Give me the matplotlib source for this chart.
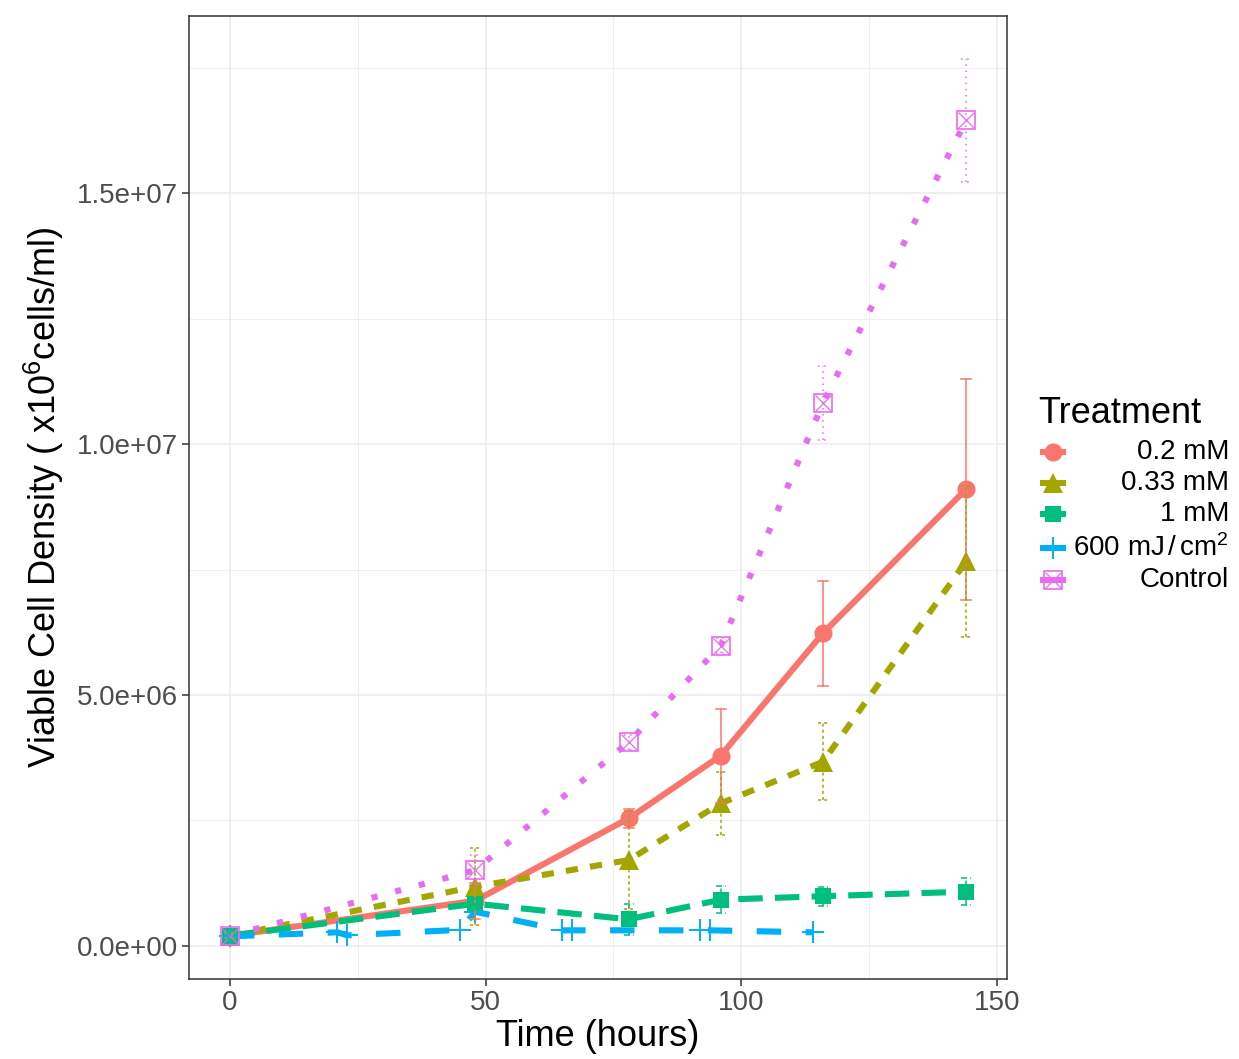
import matplotlib
matplotlib.use('Agg')
import matplotlib.pyplot as plt
from matplotlib.ticker import FixedLocator

plt.rcParams['font.family'] = ['Liberation Sans', 'DejaVu Sans']
plt.rcParams['mathtext.fontset'] = 'custom'
plt.rcParams['mathtext.rm'] = 'Liberation Sans'
plt.rcParams['mathtext.it'] = 'Liberation Sans:italic'

# dados (valores em 1e6 celulas/ml)
tempos = [0, 48, 78, 96, 116, 144]
d_02 = [0.2, 0.9, 2.54, 3.79, 6.23, 9.10]
e_02 = [0.05, 0.36, 0.19, 0.94, 1.05, 2.2]
d_033 = [0.2, 1.18, 1.71, 2.84, 3.67, 7.66]
e_033 = [0.05, 0.77, 0.97, 0.63, 0.77, 1.5]
d_1 = [0.2, 0.84, 0.53, 0.92, 0.99, 1.08]
e_1 = [0.05, 0.1, 0.31, 0.27, 0.19, 0.27]
d_ctl = [0.2, 1.51, 4.06, 5.98, 10.82, 16.45]
e_ctl = [0.05, 0.3, 0.15, 0.15, 0.73, 1.22]

tempos_uv = [0, 21, 23, 45, 48, 65, 67, 92, 94, 114]
d_uv = [0.19, 0.27, 0.21, 0.32, 0.68, 0.31, 0.31, 0.31, 0.31, 0.27]

nomes = ['0.2 mM', '0.33 mM', '1 mM', r'600 mJ$\,/\,$cm$^2$', 'Control']
cores = ['#F8766D', '#A3A500', '#00BF7D', '#00B0F6', '#E76BF3']
tracos = ['-', (0, (2, 2)), (0, (4, 2)), (0, (4, 4)), (0, (1, 3))]

fig = plt.figure(figsize=(12.39, 10.59), dpi=100)
ax = fig.add_axes([189 / 1239, 80 / 1059, 818 / 1239, 963 / 1059])

lw = 4.4
lw_err = 1.1


def marcador(a, x, y, i, z=3):
    c = cores[i]
    if i == 0:
        a.plot(x, y, 'o', ms=13, color=c, mew=0, zorder=z)
    elif i == 1:
        a.plot(x, y, '^', ms=15, color=c, mew=0, zorder=z)
    elif i == 2:
        a.plot(x, y, 's', ms=12, color=c, mew=0, zorder=z)
    elif i == 3:
        a.plot(x, y, '+', ms=16, color=c, mew=1.4, zorder=z)
    else:
        a.plot(x, y, 's', ms=12.5, mfc='none', mec=c, mew=1.2, zorder=z)
        a.plot(x, y, 'x', ms=11.5, color=c, mew=0.9, zorder=z)


def barras(a, x, y, e, i):
    for xi, yi, ei in zip(x, y, e):
        lo, hi = (yi - ei) * 1e6, (yi + ei) * 1e6
        a.plot([xi, xi], [lo, hi], color=cores[i], lw=lw_err, ls=tracos[i], zorder=4)
        a.plot([xi - 1, xi + 1], [lo, lo], color=cores[i], lw=lw_err, ls=tracos[i], zorder=4)
        a.plot([xi - 1, xi + 1], [hi, hi], color=cores[i], lw=lw_err, ls=tracos[i], zorder=4)


series = [(tempos, d_02, e_02), (tempos, d_033, e_033), (tempos, d_1, e_1),
          (tempos_uv, d_uv, None), (tempos, d_ctl, e_ctl)]

for i, (t, d, e) in enumerate(series):
    y = [v * 1e6 for v in d]
    ax.plot(t, y, color=cores[i], lw=lw, ls=tracos[i], dash_capstyle='butt',
            solid_capstyle='butt', zorder=2)
    marcador(ax, t, y, i)
    if e is not None:
        barras(ax, t, d, e, i)

ax.set_xlim(-8, 152)
ax.set_ylim(-0.66e6, 18.53e6)
ax.xaxis.set_major_locator(FixedLocator([0, 50, 100, 150]))
ax.xaxis.set_minor_locator(FixedLocator([25, 75, 125]))
ax.yaxis.set_major_locator(FixedLocator([0, 5e6, 1e7, 1.5e7]))
ax.yaxis.set_minor_locator(FixedLocator([2.5e6, 7.5e6, 1.25e7, 1.75e7]))
ax.set_yticklabels(['0.0e+00', '5.0e+06', '1.0e+07', '1.5e+07'])
ax.grid(which='major', color='#EBEBEB', lw=1.1, zorder=0)
ax.grid(which='minor', color='#EBEBEB', lw=0.55, zorder=0)
ax.set_axisbelow(True)
ax.tick_params(which='major', length=5, width=1.1, color='#333333',
               labelsize=20, labelcolor='#4D4D4D', pad=3)
ax.tick_params(which='minor', length=0)
for s in ax.spines.values():
    s.set_color('#333333')
    s.set_linewidth(1.1)

ax.set_xlabel('Time (hours)', fontsize=26, labelpad=2)
ax.set_ylabel(r'Viable Cell Density ( x10$^6$cells/ml)', fontsize=26, labelpad=8)

# legenda feita a mao
lg = fig.add_axes([1030 / 1239, (1059 - 600) / 1059, 209 / 1239, 210 / 1059])
lg.set_xlim(1030, 1239)
lg.set_ylim(600, 390)
lg.axis('off')
lg.text(1038, 413, 'Treatment', fontsize=26, va='center', ha='left')
ys = [452, 483, 514, 548, 580]
for i, yy in enumerate(ys):
    lg.plot([1040, 1066], [yy, yy], color=cores[i], lw=lw, solid_capstyle='butt')
    marcador(lg, [1053], [yy], i)
    lg.text(1229, yy, nomes[i], fontsize=20, va='center', ha='right')

fig.savefig('out.png', dpi=100)
